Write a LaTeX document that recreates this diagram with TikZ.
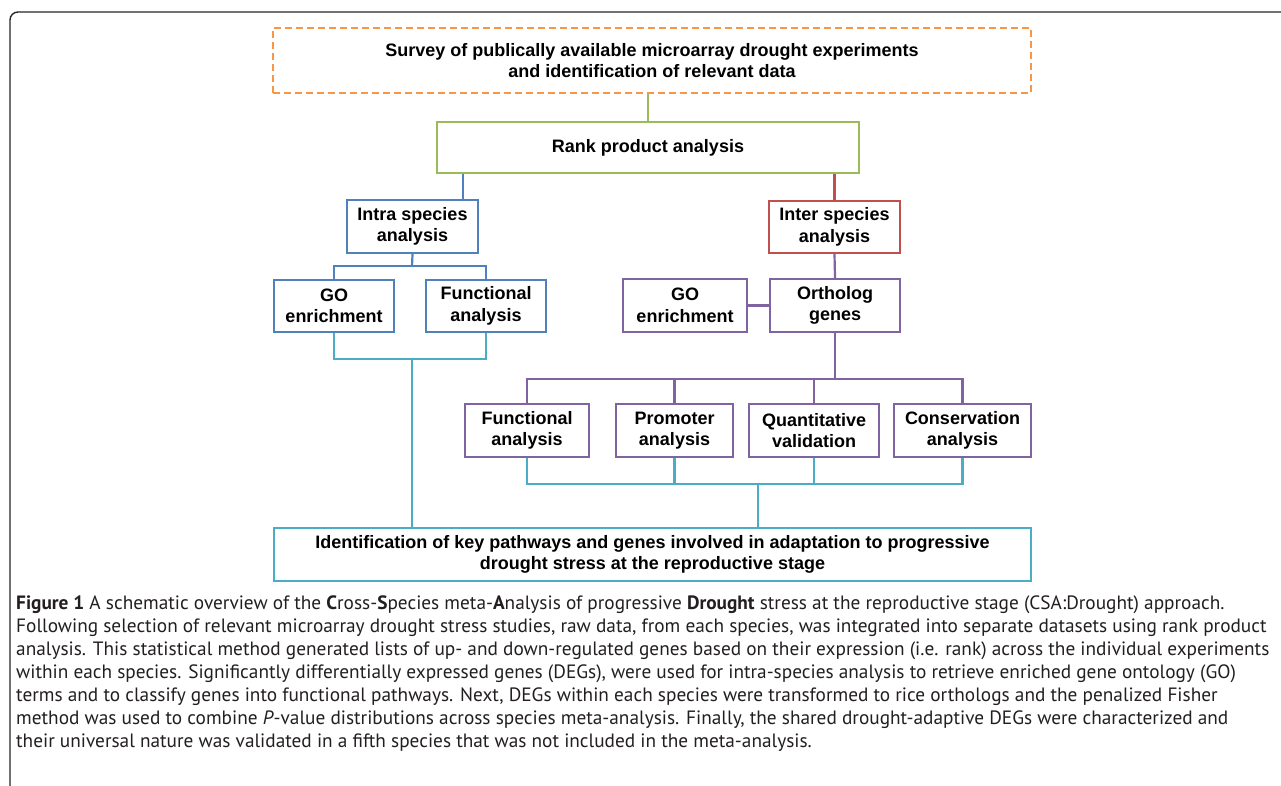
\documentclass[tikz,border=0pt]{standalone}
\usepackage{fontspec}
\setmainfont{Liberation Sans}
\newfontfamily\capfont{PT Sans}
\usetikzlibrary{calc}
\definecolor{corng}{HTML}{F79646}
\definecolor{cgrn}{HTML}{9BBB59}
\definecolor{cblu}{HTML}{4F81BD}
\definecolor{cred}{HTML}{C0504D}
\definecolor{cprp}{HTML}{8064A2}
\definecolor{ccyn}{HTML}{4BACC6}
\definecolor{ctext}{HTML}{231F20}
\tikzset{
  box/.style={draw, line width=2.2pt, fill=white, align=center, inner sep=0pt,
    font=\fontsize{18}{21.5}\selectfont\bfseries, text=black},
  wh/.style 2 args={minimum width=#1, minimum height=#2},
  conn/.style={line width=2.2pt},
  capline/.style={anchor=base west, inner sep=0pt, text=ctext,
    font=\capfont\fontsize{19.3}{23}\selectfont},
  frame/.style={line width=1.4pt, draw=black!85, rounded corners=8pt}
}
\begin{document}
\begin{tikzpicture}[x=1pt,y=-1pt]
\useasboundingbox (0,0) rectangle (1281,785);
\fill[white] (0,0) rectangle (1281,785);
\draw[frame] (1290,12) -- (10,12) -- (10,795);

% nodes
\node[box, draw=corng, dash pattern=on 7pt off 4pt, wh={758}{65}] (survey) at (652,60.5)
  {Survey of publically available microarray drought experiments\\and identification of relevant data};
\node[box, draw=cgrn, wh={422}{51}] (rank) at (648,147.5) {Rank product analysis};
\node[box, draw=cblu, wh={131}{53}] (intra) at (412.5,226.5) {Intra species\\analysis};
\node[box, draw=cred, wh={131}{52}] (inter) at (834.5,227) {Inter species\\analysis};
\node[box, draw=cblu, wh={120}{52}] (go1) at (334,306) {GO\\enrichment};
\node[box, draw=cblu, wh={120}{52}] (fa1) at (486,306) {Functional\\analysis};
\node[box, draw=cprp, wh={124}{53}] (go2) at (685,305.5) {GO\\enrichment};
\node[box, draw=cprp, wh={130}{53}] (orth) at (835,305.5) {Ortholog\\genes};
\node[box, draw=cprp, wh={124}{53}] (fa2) at (527,430.5) {Functional\\analysis};
\node[box, draw=cprp, wh={117}{53}] (prom) at (674.5,430.5) {Promoter\\analysis};
\node[box, draw=cprp, wh={130}{53}] (quant) at (814,430.5) {Quantitative\\validation};
\node[box, draw=cprp, wh={137}{53}] (cons) at (962.5,430.5) {Conservation\\analysis};
\node[box, draw=ccyn, wh={757}{53}] (ident) at (652.5,554.5)
  {Identification of key pathways and genes involved in adaptation to progressive\\drought stress at the reproductive stage};

% connectors
\coordinate (jb) at (463,0);
\coordinate (b1) at (412,266);
\coordinate (p1) at (835,379);
\coordinate (c1) at (412,359);
\coordinate (c2) at (758,484);

\draw[conn, draw=cgrn] (rank.north |- survey.south) -- (rank.north);
\draw[conn, draw=cblu] (rank.south -| jb) -- (intra.north -| jb);
\draw[conn, draw=cred] (rank.south -| inter.north) -- (inter.north);
\draw[conn, draw=cblu] (intra.south) -- (b1);
\draw[conn, draw=cblu] (go1.north) |- (b1) -| (fa1.north);
\draw[conn, draw=cprp] (inter.south) -- (orth.north);
\draw[conn, draw=cprp] (go2.east) -- (orth.west);
\draw[conn, draw=cprp] (orth.south) -- (p1);
\draw[conn, draw=cprp] (fa2.north) |- (p1) -| (cons.north);
\draw[conn, draw=cprp] (prom.north) -- (prom.north |- p1);
\draw[conn, draw=cprp] (quant.north) -- (quant.north |- p1);
\draw[conn, draw=ccyn] (go1.south) |- (c1) -| (fa1.south);
\draw[conn, draw=ccyn] (c1) -- (c1 |- ident.north);
\draw[conn, draw=ccyn] (fa2.south) |- (c2) -| (cons.south);
\draw[conn, draw=ccyn] (prom.south) -- (prom.south |- c2);
\draw[conn, draw=ccyn] (quant.south) -- (quant.south |- c2);
\draw[conn, draw=ccyn] (c2) -- (c2 |- ident.north);

% caption
\node[capline] (cap1) at (16,609.5) {\textbf{Figure 1} A schematic overview of the \textbf{C}ross-\textbf{S}pecies meta-\textbf{A}nalysis of progressive \textbf{Drought} stress at the reproductive stage (CSA:Drought) approach.};
\node[capline] (cap2) at (16,632.5) {Following selection of relevant microarray drought stress studies, raw data, from each species, was integrated into separate datasets using rank product};
\node[capline] (cap3) at (16,655.5) {analysis. This statistical method generated lists of up- and down-regulated genes based on their expression (i.e. rank) across the individual experiments};
\node[capline] (cap4) at (16,678.5) {within each species. Significantly differentially expressed genes (DEGs), were used for intra-species analysis to retrieve enriched gene ontology (GO)};
\node[capline] (cap5) at (16,701.5) {terms and to classify genes into functional pathways. Next, DEGs within each species were transformed to rice orthologs and the penalized Fisher};
\node[capline] (cap6) at (16,724.5) {method was used to combine \textit{P}-value distributions across species meta-analysis. Finally, the shared drought-adaptive DEGs were characterized and};
\node[capline] (cap7) at (16,747.5) {their universal nature was validated in a fifth species that was not included in the meta-analysis.};
\end{tikzpicture}
\end{document}
